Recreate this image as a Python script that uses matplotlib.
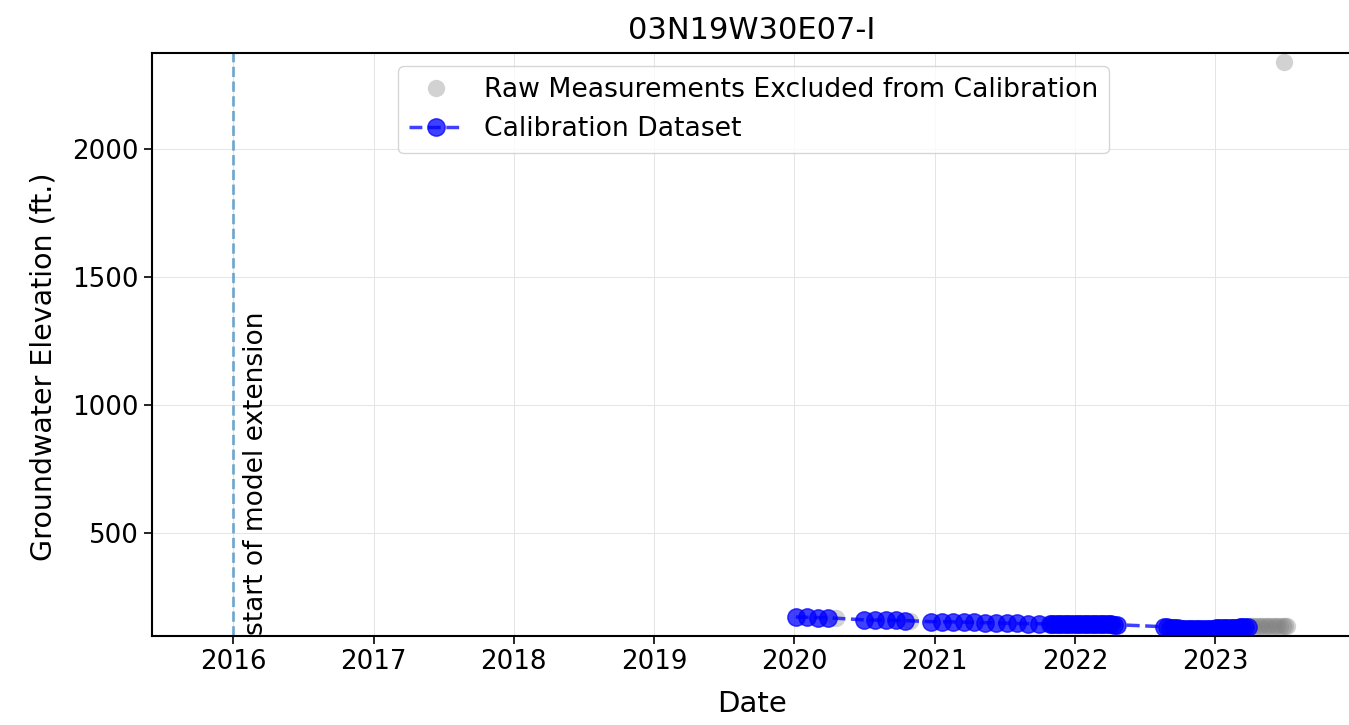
import datetime as dt
import matplotlib
matplotlib.use("Agg")
import matplotlib.pyplot as plt
import matplotlib.dates as mdates

TITLE = "03N19W30E07-I"

calib_dates = [
    # early 2020
    "2020-01-05", "2020-02-03", "2020-03-02", "2020-03-30",
    # mid 2020
    "2020-07-01", "2020-07-29", "2020-08-26", "2020-09-23", "2020-10-15",
    # 2021 monthly
    "2020-12-22", "2021-01-20", "2021-02-17", "2021-03-17", "2021-04-14",
    "2021-05-12", "2021-06-09", "2021-07-07", "2021-08-04", "2021-09-01",
    "2021-09-29", "2021-10-27",
    # late 2021 - spring 2022 weekly
    "2021-11-03", "2021-11-10", "2021-11-17", "2021-11-24", "2021-12-01",
    "2021-12-08", "2021-12-15", "2021-12-22", "2021-12-29", "2022-01-05",
    "2022-01-12", "2022-01-19", "2022-01-26", "2022-02-02", "2022-02-09",
    "2022-02-16", "2022-02-23", "2022-03-02", "2022-03-09", "2022-03-16",
    "2022-03-23", "2022-03-30", "2022-04-06", "2022-04-13", "2022-04-20",
    # late 2022 - spring 2023 weekly
    "2022-08-22", "2022-08-29", "2022-09-05", "2022-09-12", "2022-09-19",
    "2022-09-26", "2022-10-03", "2022-10-10", "2022-10-17", "2022-10-24",
    "2022-10-31", "2022-11-07", "2022-11-14", "2022-11-21", "2022-11-28",
    "2022-12-05", "2022-12-12", "2022-12-19", "2022-12-26", "2023-01-02",
    "2023-01-09", "2023-01-16", "2023-01-23", "2023-01-30", "2023-02-06",
    "2023-02-13", "2023-02-20", "2023-02-27", "2023-03-06", "2023-03-13",
    "2023-03-20", "2023-03-27",
]
calib_values = [
    172, 171, 170, 169,
    161, 160, 160, 159, 158,
    154, 154, 153, 152, 151,
    150, 149, 148, 147, 146,
    146, 145,
    145, 145, 145, 145, 145,
    145, 146, 146, 146, 146,
    146, 146, 146, 145, 145,
    145, 145, 144, 144, 144,
    143, 143, 143, 142, 142,
    134, 132, 130, 129, 128,
    128, 127, 127, 127, 126,
    126, 126, 126, 126, 126,
    127, 127, 127, 127, 128,
    128, 128, 129, 129, 129,
    130, 130, 131, 132, 133,
    133, 132,
]

raw_dates = [
    "2020-04-20", "2020-10-28",
    "2023-04-03", "2023-04-10", "2023-04-17", "2023-04-24", "2023-05-01",
    "2023-05-08", "2023-05-15", "2023-05-22", "2023-05-29", "2023-06-05",
    "2023-06-12", "2023-06-19", "2023-06-26", "2023-07-03", "2023-07-06",
    "2023-06-28",
]
raw_values = [
    167, 156,
    136, 137, 137, 137, 138,
    138, 138, 138, 138, 138,
    138, 138, 138, 137, 137,
    2341,
]

model_start = "2016-01-01"
x_tick_years = [2016, 2017, 2018, 2019, 2020, 2021, 2022, 2023]
y_ticks = [500, 1000, 1500, 2000]


def to_dt(s):
    return dt.datetime.strptime(s, "%Y-%m-%d")


fig = plt.figure(figsize=(13.49, 7.25), dpi=100)
ax = fig.add_axes([0.1127, 0.1228, 0.900, 0.8041])

ax.plot([to_dt(d) for d in raw_dates], raw_values, "o", color="gray",
        alpha=0.35, markersize=12.5, markeredgewidth=0,
        label="Raw Measurements Excluded from Calibration")
ax.plot([to_dt(d) for d in calib_dates], calib_values, "o--", color="blue",
        alpha=0.75, markersize=12.5, linewidth=2.5,
        label="Calibration Dataset")

ax.axvline(to_dt(model_start), color="#4a90c0", alpha=0.75, linestyle="--",
           linewidth=2)
ax.text(to_dt("2016-01-28"), 100, "start of model extension", rotation=90,
        va="bottom", ha="left", fontsize=19)

ax.set_xlim(to_dt("2015-06-04"), to_dt("2024-01-29"))
ax.set_ylim(98, 2375)
ax.set_yticks(y_ticks)
ax.set_xticks([dt.datetime(y, 1, 1) for y in x_tick_years])
ax.xaxis.set_major_formatter(mdates.DateFormatter("%Y"))
ax.tick_params(labelsize=18.8, length=6, width=1.2)
ax.grid(True, color="#e4e4e4", linewidth=0.7)
for sp in ax.spines.values():
    sp.set_linewidth(1.5)

ax.set_xlabel("Date", fontsize=21, labelpad=11, x=0.494)
ax.set_ylabel("Groundwater Elevation (ft.)", fontsize=20.5)
ax.yaxis.set_label_coords(-0.078, 0.461)
ax.set_title(TITLE, fontsize=22, pad=10, x=0.4935)
ax.legend(loc="upper center", fontsize=19.2, borderaxespad=0.5,
          bbox_to_anchor=(0.4955, 1.0))

fig.savefig("out.png", dpi=100)
